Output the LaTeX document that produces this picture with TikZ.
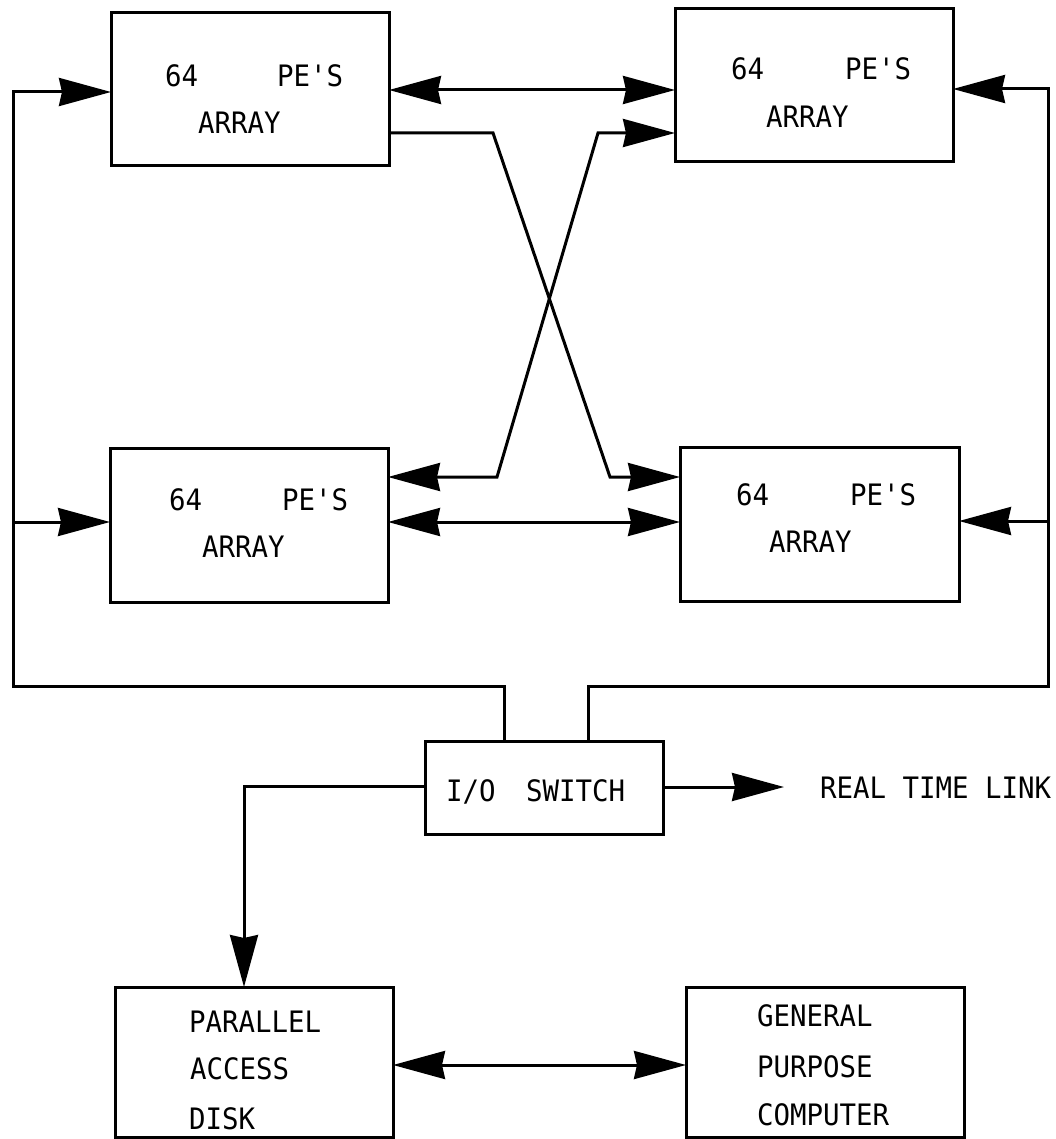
\documentclass[tikz,border=0pt]{standalone}
\usepackage{fontspec}
\setmonofont[FakeStretch=0.93]{DejaVu Sans Mono}
\usetikzlibrary{arrows.meta}
\begin{document}
\begin{tikzpicture}[x=1pt,y=-1pt,
  blk/.style={draw, line width=3pt, inner sep=0pt, outer sep=0pt},
  lbl/.style={anchor=base west, inner sep=0pt, outer sep=0pt,
              font=\ttfamily\fontsize{29.5}{34}\selectfont},
  wire/.style={line width=3pt, line join=miter},
  >={Stealth[length=52pt,width=28pt,inset=3pt]}]

\useasboundingbox (0,0) rectangle (1056,1139);

% processor arrays
\node[blk, minimum width=278pt, minimum height=153pt] (tl) at (250,89.5) {};
\node[blk, minimum width=278pt, minimum height=153pt] (tr) at (814,85.5) {};
\node[blk, minimum width=278pt, minimum height=154pt] (bl) at (249,525) {};
\node[blk, minimum width=279pt, minimum height=154pt] (br) at (819.5,524) {};
% switch, disk, host
\node[blk, minimum width=238pt, minimum height=93pt] (sw) at (544,787.5) {};
\node[blk, minimum width=278pt, minimum height=150pt] (pad) at (254,1062) {};
\node[blk, minimum width=278pt, minimum height=150pt] (gpc) at (825,1062) {};

% labels
\node[lbl] (tl64) at (165,87) {64};
\node[lbl] (tlpe) at (277,87) {PE'S};
\node[lbl] (tlar) at (198,134) {ARRAY};
\node[lbl] (tr64) at (731,80) {64};
\node[lbl] (trpe) at (845,80) {PE'S};
\node[lbl] (trar) at (766,128) {ARRAY};
\node[lbl] (bl64) at (169,510) {64};
\node[lbl] (blpe) at (282,510) {PE'S};
\node[lbl] (blar) at (202,557) {ARRAY};
\node[lbl] (br64) at (736,505) {64};
\node[lbl] (brpe) at (850,505) {PE'S};
\node[lbl] (brar) at (769,552) {ARRAY};
\node[lbl] (swio) at (446,801) {I/O};
\node[lbl] (swsw) at (526,801) {SWITCH};
\node[lbl] (rtl) at (820,798) {REAL TIME LINK};
\node[lbl] (pad1) at (189,1032) {PARALLEL};
\node[lbl] (pad2) at (190,1079) {ACCESS};
\node[lbl] (pad3) at (189,1129) {DISK};
\node[lbl] (gpc1) at (757,1026) {GENERAL};
\node[lbl] (gpc2) at (757,1077) {PURPOSE};
\node[lbl] (gpc3) at (757,1125) {COMPUTER};

% routing points
\coordinate (ytop) at (0,90);
\coordinate (ybot) at (0,522);
\coordinate (a1) at (493,133);
\coordinate (a2) at (610,477);
\coordinate (b1) at (598,133);
\coordinate (b2) at (497,477);
\coordinate (lc) at (13,686);
\coordinate (lr) at (504,686);
\coordinate (rc) at (1048,686);
\coordinate (rr) at (588,686);
\coordinate (ytl) at (0,92);
\coordinate (ytr) at (0,89);
\coordinate (ybr) at (0,521);
\coordinate (pc) at (244,786);
\coordinate (rtip) at (784,787);
\coordinate (yp) at (0,1065);

% links between arrays
\draw[wire,<->] (tl.east |- ytop) -- (tr.west |- ytop);
\draw[wire,<->] (bl.east |- ybot) -- (br.west |- ybot);
\draw[wire,->] (tl.east |- a1) -- (a1) -- (a2) -- (br.west |- a2);
\draw[wire,<->] (bl.east |- b2) -- (b2) -- (b1) -- (tr.west |- b1);

% I/O buses
\draw[wire,->] (sw.north -| lr) -- (lr) -- (lc) -- (lc |- ytl) -- (tl.west |- ytl);
\draw[wire,->] (lc |- ybot) -- (bl.west |- ybot);
\draw[wire,->] (sw.north -| rr) -- (rr) -- (rc) -- (rc |- ytr) -- (tr.east |- ytr);
\draw[wire,->] (rc |- ybr) -- (br.east |- ybr);

% switch outputs
\draw[wire,->] (sw.west |- pc) -- (pc) -- (pad.north -| pc);
\draw[wire,->] (sw.east |- rtip) -- (rtip);
\draw[wire,<->] (pad.east |- yp) -- (gpc.west |- yp);

\end{tikzpicture}
\end{document}
